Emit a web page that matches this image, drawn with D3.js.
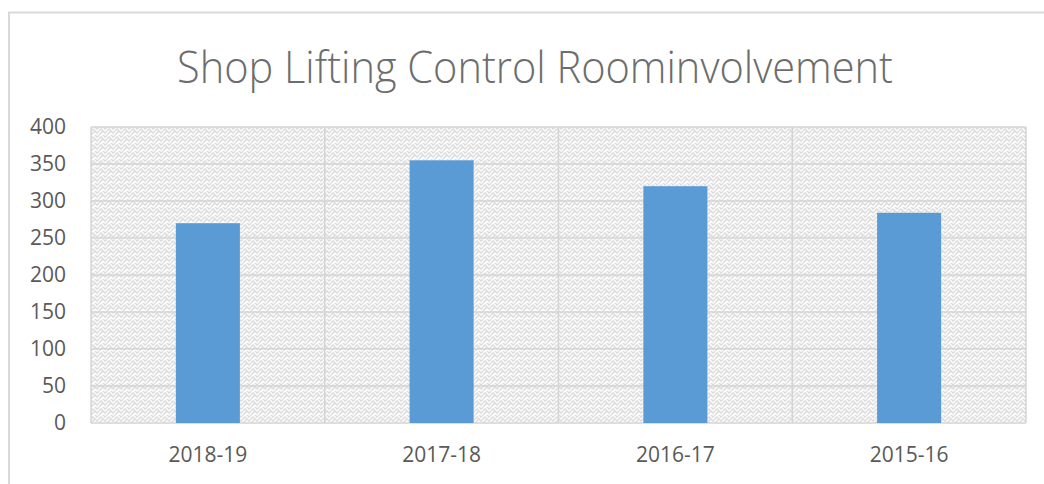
<!DOCTYPE html>
<html>
<head>
<meta charset="utf-8">
<script src="https://cdn.jsdelivr.net/npm/d3@7"></script>
<style>
  body { margin: 0; background: #fff; }
  svg text { font-family: "Open Sans", "Noto Sans", sans-serif; fill: #595959; }
</style>
</head>
<body>
<svg width="1044" height="484"></svg>
<script>
const title = 'Shop Lifting Control Roominvolvement';
const categories = ['2018-19', '2017-18', '2016-17', '2015-16'];
const values = [270, 355, 320, 284];
const yTicks = [0, 50, 100, 150, 200, 250, 300, 350, 400];

const svg = d3.select('svg');
const margin = { top: 127, right: 18, bottom: 61, left: 91 };
const width = 1044 - margin.left - margin.right;
const height = 484 - margin.top - margin.bottom;

// outer chart border (only top and left visible in the crop)
svg.append('path')
    .attr('d', 'M9,484 V12.5 H1044')
    .attr('fill', 'none')
    .attr('stroke', '#d9d9d9')
    .attr('stroke-width', 2);

// zigzag fill like the excel pattern
const pat = svg.append('defs').append('pattern')
    .attr('id', 'weave')
    .attr('patternUnits', 'userSpaceOnUse')
    .attr('width', 8)
    .attr('height', 8);
pat.append('rect').attr('width', 8).attr('height', 8).attr('fill', '#fbfbfb');
pat.append('path')
    .attr('d', 'M0,8 L4,4 L6,6 L8,4 M0,4 L2,2 L4,4 M4,0 L6,2 L8,0')
    .attr('fill', 'none')
    .attr('stroke', '#dcdcdc')
    .attr('stroke-width', 1.3);

const x = d3.scaleBand().domain(categories).range([0, width]).paddingInner(0).paddingOuter(0);
const y = d3.scaleLinear().domain([0, 400]).range([height, 0]);

const g = svg.append('g').attr('transform', `translate(${margin.left},${margin.top})`);

g.append('rect')
    .attr('width', width)
    .attr('height', height)
    .attr('fill', 'url(#weave)');

// horizontal grid
g.append('g')
    .selectAll('line')
    .data(yTicks)
    .enter()
    .append('line')
    .attr('x1', 0)
    .attr('x2', width)
    .attr('y1', d => y(d))
    .attr('y2', d => y(d))
    .attr('stroke', '#d4d4d4')
    .attr('stroke-width', 1.5);

// vertical grid at category edges
const edges = categories.map(c => x(c)).concat([width]);
g.append('g')
    .selectAll('line')
    .data(edges)
    .enter()
    .append('line')
    .attr('x1', d => d)
    .attr('x2', d => d)
    .attr('y1', 0)
    .attr('y2', height)
    .attr('stroke', '#d4d4d4')
    .attr('stroke-width', 1.5);

const barW = x.bandwidth() * 0.274;
g.append('g')
    .selectAll('rect')
    .data(values)
    .enter()
    .append('rect')
    .attr('x', (d, i) => x(categories[i]) + (x.bandwidth() - barW) / 2)
    .attr('y', d => y(d))
    .attr('width', barW)
    .attr('height', d => height - y(d))
    .attr('fill', '#5b9bd5');

// y axis labels
g.append('g')
    .selectAll('text')
    .data(yTicks)
    .enter()
    .append('text')
    .attr('x', -25)
    .attr('y', d => y(d))
    .attr('dy', '0.35em')
    .attr('text-anchor', 'end')
    .style('font-size', '21px')
    .text(d => d);

// x axis labels
g.append('g')
    .selectAll('text')
    .data(categories)
    .enter()
    .append('text')
    .attr('x', d => x(d) + x.bandwidth() / 2)
    .attr('y', height + 39)
    .attr('text-anchor', 'middle')
    .style('font-size', '21px')
    .text(d => d);

// title: taller than open sans allows at this width, so squeeze it
const tg = svg.append('g');
const t = tg.append('text')
    .attr('x', 0)
    .attr('y', 0)
    .attr('text-anchor', 'middle')
    .style('font-size', '44px')
    .style('font-weight', 300)
    .style('fill', '#6d6d6d')
    .text(title);
const tw = t.node().getComputedTextLength();
tg.attr('transform', `translate(535,83) scale(${716 / tw},1)`);
</script>
</body>
</html>
